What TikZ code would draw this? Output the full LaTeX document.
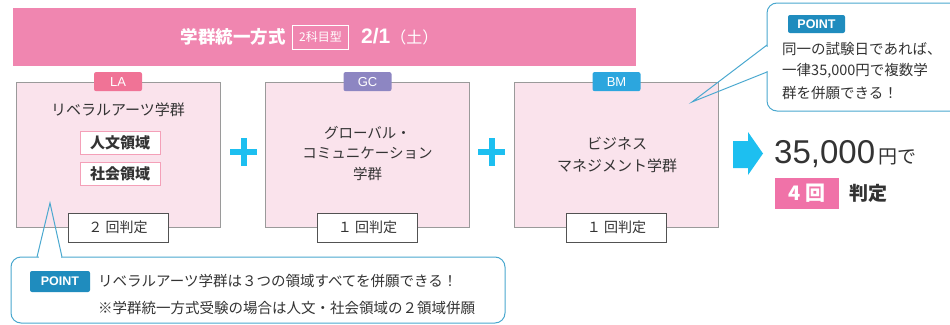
\documentclass[tikz,border=0pt]{standalone}
\usepackage{fontspec}
\setmainfont{Noto Sans CJK JP}
\newfontfamily\latin{Liberation Sans}
\usetikzlibrary{positioning}
\definecolor{ink}{HTML}{333333}
\definecolor{bannerpink}{HTML}{F086B0}
\definecolor{boxpink}{HTML}{FAE3EC}
\definecolor{boxline}{HTML}{9A9A9A}
\definecolor{fieldpink}{HTML}{F4A0B8}
\definecolor{lapink}{HTML}{F07396}
\definecolor{gcpurple}{HTML}{8D86C2}
\definecolor{bmblue}{HTML}{2CA6DE}
\definecolor{cyanblue}{HTML}{1DBFF0}
\definecolor{calloutblue}{HTML}{4AA8CF}
\definecolor{pointblue}{HTML}{1F8CBE}
\definecolor{countpink}{HTML}{F072A8}
\newcommand{\fs}[1]{\fontsize{#1}{#1}\selectfont}

\begin{document}
\begin{tikzpicture}[
  x=1pt, y=-1pt,
  banner/.style={fill=bannerpink, minimum width=623pt, minimum height=58pt, inner sep=0pt},
  titletxt/.style={text=white, font=\fs{17.5}\bfseries, inner sep=0pt},
  subjbox/.style={draw=white, line width=1pt, text=white, font=\fs{12}, minimum width=56pt, minimum height=24pt, inner sep=0pt},
  dept/.style={draw=boxline, fill=boxpink, line width=0.8pt, minimum width=204pt, minimum height=145pt, inner sep=0pt},
  tag/.style={rounded corners=2pt, text=white, font=\latin\fs{13}, minimum width=48pt, minimum height=19pt, inner sep=0pt},
  count/.style={draw=ink!85, fill=white, line width=0.8pt, minimum width=100pt, minimum height=29pt, inner sep=0pt, font=\fs{14}, text=ink},
  field/.style={draw=fieldpink, fill=white, line width=1pt, minimum width=80pt, minimum height=23pt, inner sep=0pt, font=\fs{15}\bfseries, text=ink},
  deptname/.style={text=ink, align=center, font=\fs{15}, inner sep=0pt},
  plusline/.style={draw=cyanblue, line width=6pt},
  callout/.style={draw=calloutblue, line width=1pt, fill=white, rounded corners=10pt, inner sep=0pt},
  point/.style={fill=pointblue, rounded corners=2pt, text=white, font=\latin\fs{12.5}\bfseries, inner sep=0pt},
  note/.style={text=ink, align=left, font=\fs{14.5}, inner sep=0pt},
]
\useasboundingbox (0,0) rectangle (950,324);
% ================= title banner =================
\node[banner] (ban) at (324.5,37) {};
\node[titletxt, anchor=east] (ttl) at (286,37) {学群統一方式};
\node[subjbox, right=6pt of ttl] (subj) {2科目型};
\node[titletxt, right=12pt of subj] (date) {{\latin\fs{21}2/1}{\mdseries\fs{16}（土）}};
% ================= departments =================
\node[dept] (la) at (118,154.5) {};
\node[dept] (gc) at (367.5,154.5) {};
\node[dept] (bm) at (616.5,154.5) {};
\node[tag, fill=lapink] (latag) at (la.north) {LA};
\node[tag, fill=gcpurple] (gctag) at (gc.north) {GC};
\node[tag, fill=bmblue] (bmtag) at (bm.north) {BM};
\node[deptname] (laname) at (118,110) {リベラルアーツ学群};
\node[field] (jin) at (120,142.5) {人文領域};
\node[field] (sha) at (120,173.5) {社会領域};
\node[deptname, font=\fs{14.5}] (gcname) at (367.5,153) {グローバル・\\[6pt]コミュニケーション\\[6pt]学群};
\node[deptname] (bmname) at (617,154.5) {ビジネス\\[7pt]マネジメント学群};
\node[count] (lacnt) at (la.south) {２ 回判定};
\node[count] (gccnt) at (gc.south) {１ 回判定};
\node[count] (bmcnt) at (bm.south) {１ 回判定};
% plus signs
\draw[plusline] (230,152) -- (257,152) (243.5,138) -- (243.5,166);
\draw[plusline] (478,152) -- (505,152) (491.5,138) -- (491.5,166);
% ================= result =================
\fill[cyanblue] (733,141) -- (748,141) -- (748,132) -- (763,153.5) -- (748,175) -- (748,168) -- (733,168) -- cycle;
\node[text=ink, font=\latin\fs{33}, inner sep=0pt, anchor=base west] (fee) at (774,163) {35,000};
\node[text=ink, font=\fs{19}, inner sep=0pt, anchor=base west] (yen) at ([xshift=3pt]fee.base east) {円で};
\node[fill=countpink, text=white, font=\fs{20}\bfseries, minimum width=64pt, minimum height=31pt, inner sep=0pt] (four) at (807,193.5) {4 回};
\node[text=ink, font=\fs{19}\bfseries, inner sep=0pt, right=10pt of four] (judge) {判定};
% ================= callouts =================
\node[callout, minimum width=210pt, minimum height=108pt] (pt1) at (872,57) {};
\coordinate (tip1) at (692,102);
\fill[white] (765.5,46.5) rectangle (768.5,70.5);
\draw[calloutblue, line width=1pt] (767,45) -- (tip1) -- (767,72);
\node[point, minimum width=57pt, minimum height=18pt] (pt1tag) at (816.5,24) {POINT};
\node[note, anchor=north west] (pt1txt) at (782,42) {同一の試験日であれば、\\[7pt]一律35,000円で複数学\\[7pt]群を併願できる！};
\node[callout, minimum width=494pt, minimum height=66pt] (pt2) at (258,290) {};
\coordinate (tip2) at (50,203);
\fill[white] (38.5,255.5) rectangle (60.5,258.5);
\draw[calloutblue, line width=1pt] (37,257) -- (tip2) -- (62,257);
\node[point, minimum width=60pt, minimum height=21pt] (pt2tag) at (60,281.5) {POINT};
\node[note, anchor=west] (pt2a) at (98,281) {リベラルアーツ学群は３つの領域すべてを併願できる！};
\node[note, anchor=west] (pt2b) at (98,308) {※学群統一方式受験の場合は人文・社会領域の２領域併願};
\end{tikzpicture}
\end{document}
